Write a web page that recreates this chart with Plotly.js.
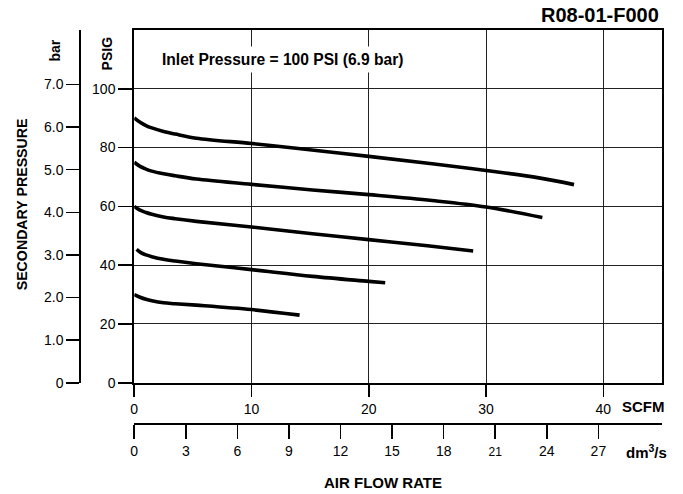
<!DOCTYPE html>
<html>
<head>
<meta charset="utf-8">
<script src="https://cdn.plot.ly/plotly-3.0.1.min.js"></script>
<style>html,body{margin:0;padding:0;background:#fff;}#chart{width:683px;height:494px;}</style>
</head>
<body>
<div id="chart"></div>
<script>
// Air flow (SCFM) and secondary pressure (PSIG) for each curve
var flow1 = [0, 0.5, 1, 1.5, 2.5, 3.5, 5.3, 10, 13.8, 20, 25.4, 30, 34.5, 37.5];
var psig1 = [90.1, 88.6, 87.5, 86.7, 85.5, 84.6, 83.2, 81.4, 79.8, 77.0, 74.5, 72.2, 69.7, 67.4];
var flow2 = [0, 0.5, 1, 1.5, 2.5, 3.5, 5.3, 10, 15.2, 20, 25.4, 30, 34.8];
var psig2 = [75.0, 73.6, 72.7, 72.0, 71.1, 70.4, 69.3, 67.5, 65.6, 64.0, 62.0, 59.8, 56.2];
var flow3 = [0, 0.5, 1, 1.5, 2.5, 3.5, 5.3, 10, 15.2, 20, 25, 28.9];
var psig3 = [60.0, 58.7, 57.9, 57.3, 56.4, 55.8, 54.9, 53.0, 50.7, 48.7, 46.6, 44.8];
var flow4 = [0.2, 0.6, 1, 1.5, 2.5, 3.5, 5.3, 10, 15.2, 20, 21.4];
var psig4 = [45.4, 44.2, 43.5, 42.9, 42.0, 41.4, 40.5, 38.5, 36.2, 34.5, 34.0];
var flow5 = [0, 0.5, 1, 1.5, 2.5, 3.5, 5.3, 10, 14.1];
var psig5 = [30.0, 29.1, 28.4, 27.9, 27.2, 26.9, 26.4, 24.9, 23.0];

var scfmTicks = [0, 10, 20, 30, 40];
var psigTicks = [0, 20, 40, 60, 80, 100];
var barTicks = [0, 1, 2, 3, 4, 5, 6, 7];
var barLabels = ['0', '1.0', '2.0', '3.0', '4.0', '5.0', '6.0', '7.0'];
var dmTicks = [0, 3, 6, 9, 12, 15, 18, 21, 24, 27];
var dmLabels = ['0', '3', '6', '9', '12', '15', '18', '<span style="font-size:12px">21</span>', '24', '27'];

var flows = [flow1, flow2, flow3, flow4, flow5];
var psigs = [psig1, psig2, psig3, psig4, psig5];

var traces = flows.map(function (f, i) {
  return {
    x: f, y: psigs[i], type: 'scatter', mode: 'lines',
    line: {color: '#000', width: 3.6, shape: 'spline', smoothing: 1},
    hoverinfo: 'skip', showlegend: false
  };
});
traces.push({x: [], y: [], xaxis: 'x2', yaxis: 'y2', type: 'scatter', mode: 'lines', showlegend: false});

var F = 'Liberation Sans, Arial, Helvetica, sans-serif';
var tickFont = {family: F, size: 14, color: '#000'};

function px2x(px) { return (px - 60) / 602.5; }
function py2y(py) { return (454 - py) / 424.5; }

var layout = {
  width: 683, height: 494,
  margin: {l: 60, r: 20.5, t: 29.5, b: 40, pad: 0},
  paper_bgcolor: '#fff', plot_bgcolor: '#fff',
  font: {family: F, color: '#000'},
  xaxis: {
    domain: [0.1233, 1], range: [0, 45], tickvals: scfmTicks, ticktext: scfmTicks.map(String),
    ticks: 'outside', ticklen: 12, tickwidth: 1.5, tickcolor: '#000',
    showgrid: true, gridcolor: '#222', gridwidth: 1,
    showline: true, mirror: true, linewidth: 2, linecolor: '#000',
    zeroline: false, tickfont: tickFont, anchor: 'y', fixedrange: true
  },
  yaxis: {
    domain: [0.168, 1], range: [0, 120], tickvals: psigTicks, ticktext: psigTicks.map(String),
    ticks: 'outside', ticklen: 14, tickwidth: 1.5, tickcolor: '#000',
    showgrid: true, gridcolor: '#222', gridwidth: 1,
    showline: true, mirror: true, linewidth: 2, linecolor: '#000',
    zeroline: false, tickfont: tickFont, anchor: 'x', fixedrange: true
  },
  yaxis2: {
    overlaying: 'y', anchor: 'free', position: 0.0337, side: 'left',
    range: [0, 8.28], tickvals: barTicks, ticktext: barLabels,
    ticks: 'outside', ticklen: 13, tickwidth: 1.5, tickcolor: '#000',
    showgrid: false, showline: true, linewidth: 2, linecolor: '#000',
    zeroline: false, tickfont: tickFont, fixedrange: true
  },
  xaxis2: {
    overlaying: 'x', anchor: 'free', position: 0.07, side: 'bottom',
    range: [0, 30.7], tickvals: dmTicks, ticktext: dmLabels,
    ticks: 'outside', ticklen: 14, tickwidth: 1.5, tickcolor: '#000',
    showgrid: false, showline: true, linewidth: 2, linecolor: '#000',
    zeroline: false, tickfont: tickFont, fixedrange: true
  },
  annotations: [
    {text: '<b>R08-01-F000</b>', xref: 'paper', yref: 'paper', x: px2x(661), y: py2y(14),
     xanchor: 'right', yanchor: 'middle', showarrow: false, font: {family: F, size: 20, color: '#000'}},
    {text: '<b>Inlet Pressure = 100 PSI (6.9 bar)</b>', xref: 'paper', yref: 'paper', x: px2x(157), y: py2y(59),
     xanchor: 'left', yanchor: 'middle', showarrow: false, bgcolor: '#fff', borderpad: 4,
     font: {family: F, size: 15.6, color: '#000'}},
    {text: '<b>SECONDARY PRESSURE</b>', xref: 'paper', yref: 'paper', x: px2x(22), y: py2y(204),
     xanchor: 'center', yanchor: 'middle', textangle: -90, showarrow: false, font: {family: F, size: 14.2, color: '#000'}},
    {text: '<b>bar</b>', xref: 'paper', yref: 'paper', x: px2x(55), y: py2y(50),
     xanchor: 'center', yanchor: 'middle', textangle: -90, showarrow: false, font: {family: F, size: 14, color: '#000'}},
    {text: '<b>PSIG</b>', xref: 'paper', yref: 'paper', x: px2x(108), y: py2y(53),
     xanchor: 'center', yanchor: 'middle', textangle: -90, showarrow: false, font: {family: F, size: 14, color: '#000'}},
    {text: '<b>AIR FLOW RATE</b>', xref: 'paper', yref: 'paper', x: px2x(383), y: py2y(483),
     xanchor: 'center', yanchor: 'middle', showarrow: false, font: {family: F, size: 15, color: '#000'}},
    {text: '<b>SCFM</b>', xref: 'paper', yref: 'paper', x: px2x(644), y: py2y(406),
     xanchor: 'center', yanchor: 'middle', showarrow: false, font: {family: F, size: 15, color: '#000'}},
    {text: '<b>dm<sup>3</sup>/s</b>', xref: 'paper', yref: 'paper', x: px2x(647), y: py2y(451),
     xanchor: 'center', yanchor: 'middle', showarrow: false, font: {family: F, size: 15, color: '#000'}}
  ]
};

Plotly.newPlot('chart', traces, layout, {displayModeBar: false, staticPlot: true});
</script>
</body>
</html>
